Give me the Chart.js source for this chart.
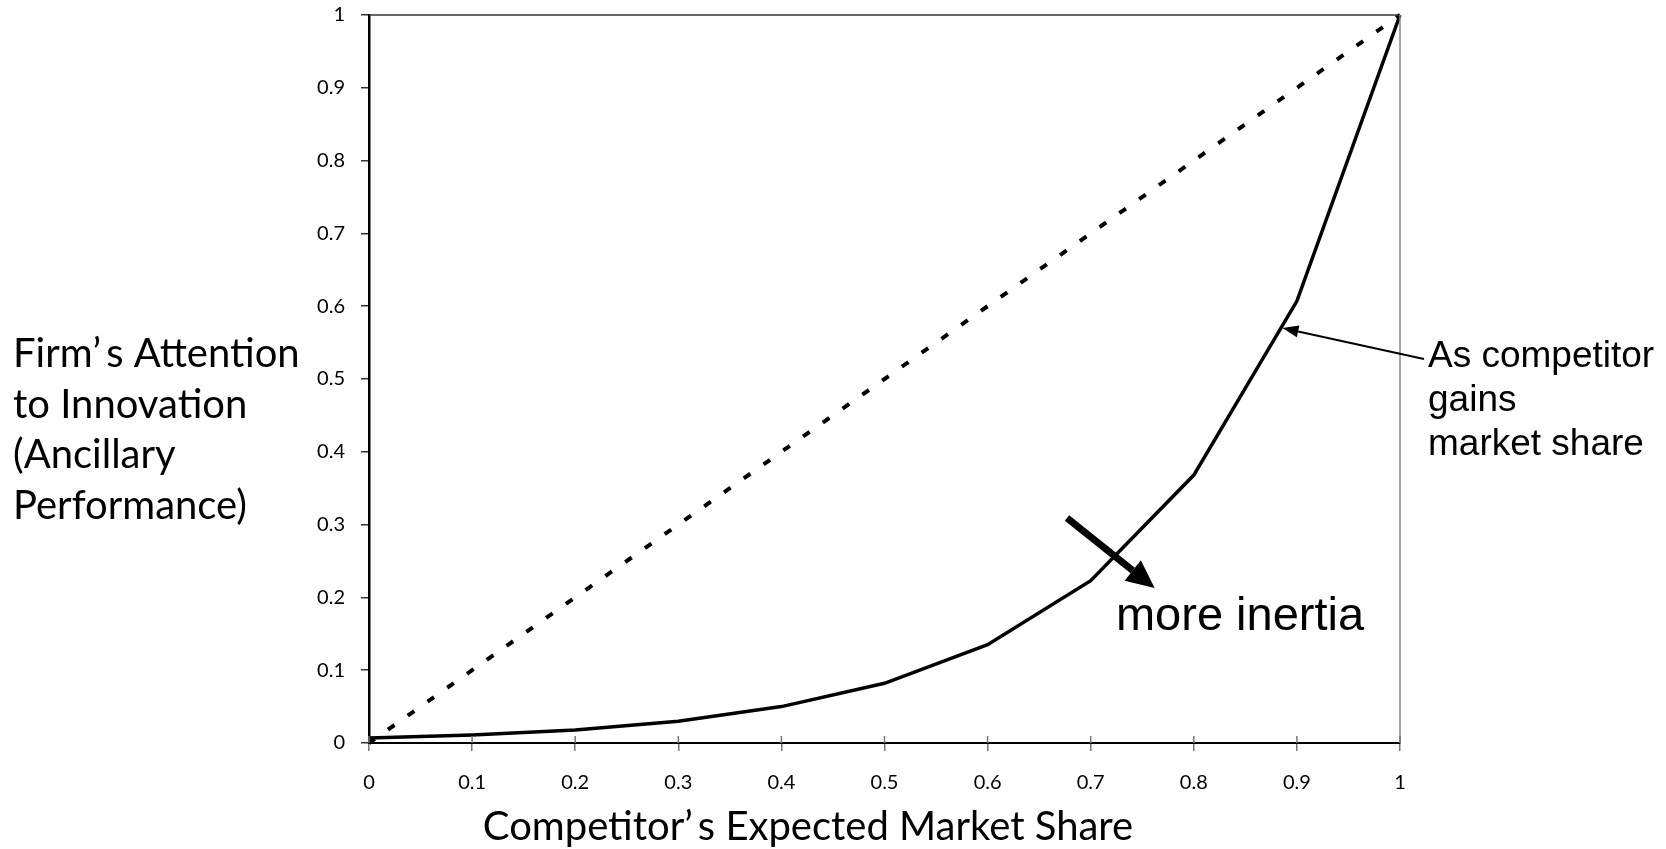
<!DOCTYPE html>
<html>
<head>
<meta charset="utf-8">
<script src="https://cdn.jsdelivr.net/npm/chart.js@4.4.1/dist/chart.umd.min.js"></script>
<style>
    html, body { margin: 0; padding: 0; background: #fff; }
    #wrap { width: 1666px; height: 849px; }
</style>
</head>
<body>
<div id="wrap"><canvas id="chart" width="1666" height="849"></canvas></div>
<script>
// chart data
const marketShare = [0, 0.1, 0.2, 0.3, 0.4, 0.5, 0.6, 0.7, 0.8, 0.9, 1];
const attentionCurve = [0.007, 0.011, 0.018, 0.030, 0.050, 0.082, 0.135, 0.223, 0.368, 0.607, 1];
const equalLine = [0, 0.1, 0.2, 0.3, 0.4, 0.5, 0.6, 0.7, 0.8, 0.9, 1];
const tickValues = [0, 0.1, 0.2, 0.3, 0.4, 0.5, 0.6, 0.7, 0.8, 0.9, 1];
const tickLabels = ['0', '0.1', '0.2', '0.3', '0.4', '0.5', '0.6', '0.7', '0.8', '0.9', '1'];

const yTitle = ['Firm’s Attention', 'to Innovation', '(Ancillary', 'Performance)'];
const xTitle = 'Competitor’s Expected Market Share';
const noteLines = ['As competitor', 'gains', 'market share'];
const inertiaLabel = 'more inertia';

const CAL = 'Lato, "Open Sans", sans-serif';
const ARIAL = '"Liberation Sans", Arial, sans-serif';

// the apostrophe in the titles sits in a wider cell in the original
function wideText(ctx, text, x, y, size, align) {
    ctx.font = size + 'px ' + CAL;
    const parts = text.split('’');
    const pieces = [];
    parts.forEach((p, i) => {
        if (i > 0) pieces.push({ t: '’', w: size * 0.34 });
        if (p) pieces.push({ t: p, w: ctx.measureText(p).width });
    });
    const total = pieces.reduce((a, p) => a + p.w, 0);
    let cx = align === 'center' ? x - total / 2 : x;
    ctx.textAlign = 'left';
    pieces.forEach(p => { ctx.fillText(p.t, cx, y); cx += p.w; });
}

function arrow(ctx, x1, y1, x2, y2, width, headLen, headWidth) {
    const ang = Math.atan2(y2 - y1, x2 - x1);
    const bx = x2 - headLen * Math.cos(ang);
    const by = y2 - headLen * Math.sin(ang);
    ctx.beginPath();
    ctx.lineWidth = width;
    ctx.moveTo(x1, y1);
    ctx.lineTo(bx, by);
    ctx.stroke();
    ctx.beginPath();
    ctx.moveTo(x2, y2);
    ctx.lineTo(bx + headWidth / 2 * Math.sin(ang), by - headWidth / 2 * Math.cos(ang));
    ctx.lineTo(bx - headWidth / 2 * Math.sin(ang), by + headWidth / 2 * Math.cos(ang));
    ctx.closePath();
    ctx.fill();
}

const decorations = {
    id: 'decorations',
    afterDraw(chart) {
        const ctx = chart.ctx;
        const { left, right, top, bottom } = chart.chartArea;
        const xs = chart.scales.x, ys = chart.scales.y;
        ctx.save();

        // frame on top and right
        ctx.lineWidth = 1.5;
        ctx.strokeStyle = '#333';
        ctx.beginPath();
        ctx.moveTo(left, top);
        ctx.lineTo(right, top);
        ctx.stroke();
        ctx.strokeStyle = '#888';
        ctx.beginPath();
        ctx.moveTo(right, top);
        ctx.lineTo(right, bottom);
        ctx.stroke();

        // x ticks cross the axis
        ctx.strokeStyle = '#777';
        ctx.lineWidth = 1.5;
        tickValues.forEach(v => {
            const px = xs.getPixelForValue(v);
            ctx.beginPath();
            ctx.moveTo(px, bottom);
            ctx.lineTo(px, bottom - 7);
            ctx.stroke();
        });

        // axis titles
        ctx.fillStyle = '#000';
        ctx.textBaseline = 'alphabetic';
        yTitle.forEach((line, i) => wideText(ctx, line, 13, 367 + i * 50.5, 40, 'left'));
        wideText(ctx, xTitle, 808, 840, 40, 'center');

        // callout
        ctx.font = '37px ' + ARIAL;
        ctx.textAlign = 'left';
        noteLines.forEach((line, i) => ctx.fillText(line, 1428, 367 + i * 44));
        ctx.strokeStyle = '#000';
        arrow(ctx, 1424, 359, xs.getPixelForValue(0.886), ys.getPixelForValue(0.570), 2, 16, 12);

        // thick arrow + label
        arrow(ctx, xs.getPixelForValue(0.677), ys.getPixelForValue(0.309),
            xs.getPixelForValue(0.762), ys.getPixelForValue(0.213), 7, 28, 26);
        ctx.font = '47px ' + ARIAL;
        ctx.fillText(inertiaLabel, xs.getPixelForValue(0.7245), 630);

        ctx.restore();
    }
};

new Chart(document.getElementById('chart').getContext('2d'), {
    type: 'line',
    data: {
        datasets: [
            {
                data: marketShare.map((x, i) => ({ x, y: attentionCurve[i] })),
                borderColor: '#000',
                borderWidth: 3.5,
                pointRadius: 0,
                tension: 0,
                clip: false
            },
            {
                data: marketShare.map((x, i) => ({ x, y: equalLine[i] })),
                borderColor: '#000',
                borderWidth: 4,
                borderDash: [8, 16.2],
                borderDashOffset: 1,
                pointRadius: 0,
                tension: 0,
                clip: false
            }
        ]
    },
    options: {
        responsive: false,
        animation: false,
        devicePixelRatio: 1,
        layout: { padding: { left: 0, top: 15, right: 266, bottom: 0 } },
        plugins: { legend: { display: false }, tooltip: { enabled: false } },
        scales: {
            x: {
                type: 'linear',
                min: 0,
                max: 1,
                afterBuildTicks: s => { s.ticks = tickValues.map(v => ({ value: v })); },
                afterFit: s => { s.height = 106; s.paddingLeft = 0; s.paddingRight = 0; },
                grid: { drawOnChartArea: false, drawTicks: true, tickLength: 8, color: '#777', lineWidth: 1.5 },
                border: { color: '#000', width: 2 },
                ticks: {
                    color: '#000',
                    font: { family: CAL, size: 20 },
                    padding: 20,
                    maxRotation: 0,
                    callback: (v, i) => tickLabels[i]
                }
            },
            y: {
                type: 'linear',
                min: 0,
                max: 1,
                afterBuildTicks: s => { s.ticks = tickValues.map(v => ({ value: v })); },
                afterFit: s => { s.width = 369; s.paddingTop = 0; s.paddingBottom = 0; },
                grid: { drawOnChartArea: false, drawTicks: true, tickLength: 8, color: '#333', lineWidth: 1.5 },
                border: { color: '#000', width: 2.5 },
                ticks: {
                    color: '#000',
                    font: { family: CAL, size: 20 },
                    padding: 16,
                    callback: (v, i) => tickLabels[i]
                }
            }
        }
    },
    plugins: [decorations]
});
</script>
</body>
</html>
